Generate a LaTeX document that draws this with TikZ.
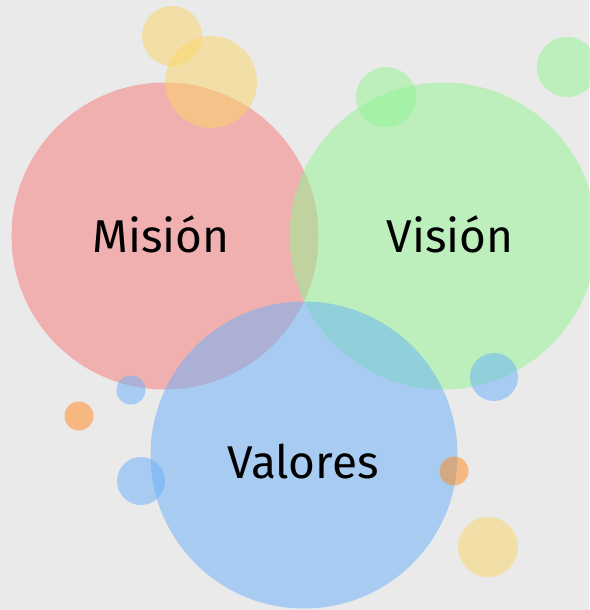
\documentclass[tikz,border=0pt]{standalone}
\usepackage{fontspec}
\setmainfont{Fira Sans}
\definecolor{bgcol}{RGB}{234,234,234}
\definecolor{misred}{RGB}{246,120,120}
\definecolor{visgreen}{RGB}{144,244,144}
\definecolor{valblue}{RGB}{104,176,248}
\definecolor{dotyellow}{RGB}{250,214,102}
\definecolor{dotorange}{RGB}{254,136,24}

\begin{document}
\begin{tikzpicture}[x=1pt, y=-1pt,
    bigcircle/.style={circle, fill opacity=0.5, minimum size=307pt, inner sep=0pt},
    dot/.style={circle, fill opacity=0.5, inner sep=0pt},
    title/.style={anchor=base, inner sep=0pt, font=\fontsize{46}{52}\selectfont}]

% Background
\fill[bgcol] (0,0) rectangle (589,610);
\useasboundingbox (0,0) rectangle (589,610);

% Main circles
\node[bigcircle, fill=misred] (mision) at (165,236) {};
\node[bigcircle, fill=visgreen] (vision) at (443,236) {};
\node[bigcircle, fill=valblue] (valores) at (304,455) {};

% Yellow dots (top)
\node[dot, fill=dotyellow, minimum size=60pt] (ytop) at (172,36) {};
\node[dot, fill=dotyellow, minimum size=92pt] (ybig) at (211,82) {};

% Green dots
\node[dot, fill=visgreen, minimum size=60pt] (gmid) at (386,97) {};
\node[dot, fill=visgreen, minimum size=60pt] (gright) at (567,67) {};

% Blue dots
\node[dot, fill=valblue, minimum size=29pt] (bsmall) at (131,390) {};
\node[dot, fill=valblue, minimum size=48pt] (bleft) at (141,481) {};
\node[dot, fill=valblue, minimum size=48pt] (bright) at (494,377) {};

% Orange dots
\node[dot, fill=dotorange, minimum size=29pt] (oleft) at (79,416) {};
\node[dot, fill=dotorange, minimum size=29pt] (oright) at (454,471) {};

% Yellow dot (bottom)
\node[dot, fill=dotyellow, minimum size=60pt] (ybottom) at (488,547) {};

% Titles
\node[title] (misiontxt) at (161,252) {Misión};
\node[title] (visiontxt) at (450,252) {Visión};
\node[title] (valorestxt) at (303,478) {Valores};

\end{tikzpicture}
\end{document}
